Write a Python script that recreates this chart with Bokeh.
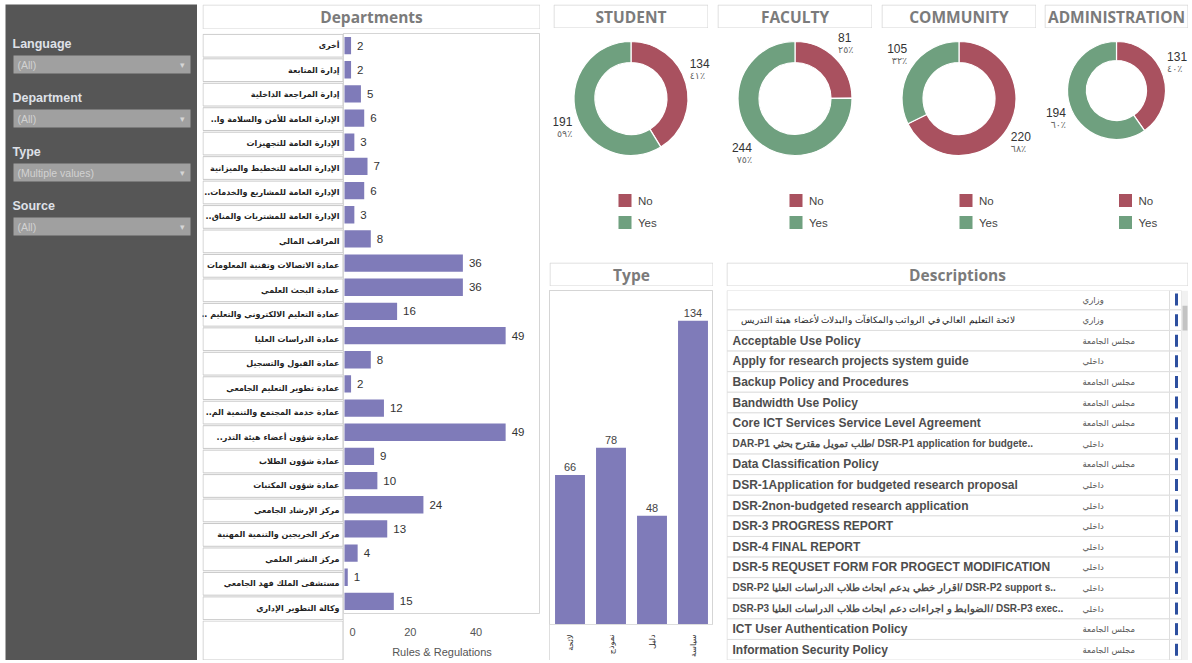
import math
import re
from bokeh.plotting import figure
from bokeh.models import Range1d, FactorRange, Spacer, FixedTicker
from bokeh.layouts import row, column
from bokeh.embed import file_html
from bokeh.resources import INLINE
from bokeh.core.properties import value

# ---------------- data ----------------
filter_names = ["Language", "Department", "Type", "Source"]
filter_values = ["(All)", "(All)", "(Multiple values)", "(All)"]

departments = [
    "أخرى", "إدارة المتابعة", "إدارة المراجعة الداخلية",
    "..الإدارة العامة للأمن والسلامة وا", "الإدارة العامة للتجهيزات",
    "الإدارة العامة للتخطيط والميزانية", "..الإدارة العامة للمشاريع والخدمات",
    "..الإدارة العامة للمشتريات والمناق", "المراقب المالي",
    "عمادة الاتصالات وتقنية المعلومات", "عمادة البحث العلمي",
    ".. عمادة التعليم الالكتروني والتعليم", "عمادة الدراسات العليا",
    "عمادة القبول والتسجيل", "عمادة تطوير التعليم الجامعي",
    "..عمادة خدمة المجتمع والتنمية الم", "..عمادة شؤون أعضاء هيئة التدر",
    "عمادة شؤون الطلاب", "عمادة شؤون المكتبات", "مركز الإرشاد الجامعي",
    "مركز الخريجين والتنمية المهنية", "مركز النشر العلمي",
    "مستشفى الملك فهد الجامعي", "وكالة التطوير الإداري",
]
dept_counts = [2, 2, 5, 6, 3, 7, 6, 3, 8, 36, 36, 16, 49, 8, 2, 12, 49, 9, 10, 24, 13, 4, 1, 15]
dept_ticks = [0, 20, 40]

audiences = ["STUDENT", "FACULTY", "COMMUNITY", "ADMINISTRATION"]
answers = ["No", "Yes"]
no_counts = [134, 81, 220, 131]
yes_counts = [191, 244, 105, 194]

types = ["لائحة", "نموذج", "دليل", "سياسة"]
type_counts = [66, 78, 48, 134]

descriptions = [
    "",
    "لائحة التعليم العالي في الرواتب والمكافآت والبدلات لأعضاء هيئة التدريس",
    "Acceptable Use Policy",
    "Apply for research projects system guide",
    "Backup Policy and Procedures",
    "Bandwidth Use Policy",
    "Core ICT Services Service Level Agreement",
    "DAR-P1 طلب تمويل مقترح بحثي/ DSR-P1 application for budgete..",
    "Data Classification Policy",
    "DSR-1Application for budgeted research proposal",
    "DSR-2non-budgeted research application",
    "DSR-3 PROGRESS REPORT",
    "DSR-4 FINAL REPORT",
    "DSR-5 REQUSET FORM FOR PROGECT MODIFICATION",
    "DSR-P2 اقرار خطي بدعم ابحاث طلاب الدراسات العليا/ DSR-P2 support s..",
    "DSR-P3 الضوابط و اجراءات دعم ابحاث طلاب الدراسات العليا/ DSR-P3 exec..",
    "ICT User Authentication Policy",
    "Information Security Policy",
]
sources = [
    "وزاري", "وزاري", "مجلس الجامعة", "داخلي", "مجلس الجامعة", "مجلس الجامعة",
    "مجلس الجامعة", "داخلي", "مجلس الجامعة", "داخلي", "داخلي", "داخلي", "داخلي",
    "داخلي", "داخلي", "داخلي", "مجلس الجامعة", "مجلس الجامعة",
]

# ---------------- styles ----------------
PURPLE = "#7f7bb9"
NO_COLOR = "#a9515f"
YES_COLOR = "#6fa07f"
PANEL = "#565656"
BORDER = "#d5d5d5"
TITLE_TXT = "#7b7b7b"
SANS = value("Liberation Sans")
ARAB = value("DejaVu Sans")


def blank(w, h, xr, yr, **kw):
    p = figure(width=w, height=h, x_range=xr, y_range=yr, output_backend="svg",
               toolbar_location=None, min_border=0, x_axis_location=None,
               y_axis_location=None, **kw)
    p.grid.visible = False
    p.outline_line_color = None
    return p


def title_box(text, w, h=25):
    p = blank(w, h, Range1d(0, w), Range1d(0, h))
    p.quad(left=[0.5], right=[w - 0.5], bottom=[0.5], top=[h - 0.5],
           fill_color="white", line_color=BORDER)
    p.text(x=[w / 2], y=[h / 2], text=[text], text_align="center",
           text_baseline="middle", text_font=value("Open Sans"),
           text_font_style="bold", text_font_size="15.5px", text_color=TITLE_TXT)
    return p


# ---------------- left filter panel ----------------
PH = 656
lp = blank(192, PH, Range1d(0, 192), Range1d(PH, 0))
lp.background_fill_color = PANEL
lp.border_fill_color = PANEL
n = len(filter_names)
lab_y = [39 + 54 * i for i in range(n)]
box_t = [51 + 54 * i for i in range(n)]
box_b = [t + 18 for t in box_t]
lp.text(x=[7] * n, y=lab_y, text=filter_names, text_baseline="middle",
        text_font=SANS, text_font_style="bold", text_font_size="12.5px",
        text_color="#dfe1e8")
lp.quad(left=[8] * n, right=[185] * n, top=box_t, bottom=box_b,
        fill_color="#a0a0a0", line_color=None)
lp.text(x=[12] * n, y=[t + 9 for t in box_t], text=filter_values,
        text_baseline="middle", text_font=SANS, text_font_size="10.5px",
        text_color="#d2d2d2")
lp.text(x=[177] * n, y=[t + 9 for t in box_t], text=["▾"] * n,
        text_align="center", text_baseline="middle", text_font=SANS,
        text_font_size="9px", text_color="#d6d6d6")

# ---------------- departments ----------------
DH = 627
AXH = 40
dept_title = title_box("Departments", 338, 25)
yr = FactorRange(factors=departments[::-1])

lab = blank(141, DH - AXH, Range1d(0, 141), yr)
lab.hbar(y=departments, left=0.5, right=140.5, height=0.93,
         fill_color="white", line_color="#c9c9c9")
lab.text(x=[137] * len(departments), y=departments, text=departments,
         text_align="right", text_baseline="middle", text_font=ARAB,
         text_font_style="bold", text_font_size="8px", text_color="#222222")

lab_bottom = blank(141, AXH, Range1d(0, 141), Range1d(0, AXH))
lab_bottom.quad(left=[0.5], right=[140.5], bottom=[0.5], top=[AXH - 0.5],
                fill_color="white", line_color="#c9c9c9")

bars = figure(width=197, height=DH, x_range=Range1d(-0.3, 59.6), y_range=yr,
              output_backend="svg", toolbar_location=None, min_border=0,
              min_border_bottom=AXH, y_axis_location=None,
              styles={"outline": "1px solid #d5d5d5", "outline-offset": "-1px"})
bars.grid.visible = False
bars.outline_line_color = BORDER
bars.hbar(y=departments, left=0, right=dept_counts, height=0.72,
          fill_color=PURPLE, line_color=None)
bars.text(x=dept_counts, y=departments, text=[str(v) for v in dept_counts],
          x_offset=6, text_align="left", text_baseline="middle",
          text_font=SANS, text_font_size="11.5px", text_color="#333333")
ax = bars.xaxis[0]
ax.ticker = FixedTicker(ticks=dept_ticks)
ax.major_label_overrides = {0: "\u20070"}
ax.axis_line_color = None
ax.major_tick_line_color = None
ax.minor_tick_line_color = None
ax.major_label_standoff = 6
ax.major_label_text_font = "Liberation Sans"
ax.major_label_text_font_size = "11px"
ax.major_label_text_color = "#555555"
ax.axis_label = "Rules & Regulations"
ax.axis_label_text_font = "Liberation Sans"
ax.axis_label_text_font_style = "normal"
ax.axis_label_text_font_size = "11px"
ax.axis_label_text_color = "#555555"
ax.axis_label_standoff = 5

dept_block = column(dept_title, Spacer(width=338, height=4),
                    row(column(lab, lab_bottom), bars))

# ---------------- donuts ----------------
AR_DIGITS = str.maketrans("0123456789", "٠١٢٣٤٥٦٧٨٩")
DONUT_H = 222


def donut_panel(name, counts, w, extra, h, r_out, r_in, top_gap, legend_dx):
    title = title_box(name, w, 24)
    fw = w + extra
    p = blank(fw, h, Range1d(0, fw), Range1d(0, h))
    cx = w / 2.0
    cy = h - top_gap
    total = float(sum(counts))
    starts, ends, mids = [], [], []
    cum = 0
    for c in counts:
        f0 = cum / total
        cum += c
        f1 = cum / total
        starts.append(math.pi / 2 - 2 * math.pi * f0)
        ends.append(math.pi / 2 - 2 * math.pi * f1)
        mids.append(math.pi * (f0 + f1))
    colors = [NO_COLOR, YES_COLOR]
    p.annular_wedge(x=[cx] * len(counts), y=[cy] * len(counts),
                    inner_radius=r_in, outer_radius=r_out,
                    inner_radius_units="screen", outer_radius_units="screen",
                    start_angle=starts, end_angle=ends, direction="clock",
                    fill_color=colors, line_color="white", line_width=1.2)
    r_lab = r_out + 4
    for c, th in zip(counts, mids):
        lx = cx + r_lab * math.sin(th)
        ly = cy + r_lab * math.cos(th)
        align = "left" if math.sin(th) >= 0 else "right"
        if math.cos(th) >= 0:
            ny, py = ly + 18, ly + 6
        else:
            ny, py = ly - 6, ly - 18
        pct = str(int(round(100 * c / total))).translate(AR_DIGITS) + "٪"
        p.text(x=[lx], y=[ny], text=[str(c)], text_align=align,
               text_baseline="middle", text_font=SANS,
               text_font_size="12px", text_color="#333333")
        p.text(x=[lx], y=[py], text=[pct], text_align=align,
               text_baseline="middle", text_font=ARAB,
               text_font_size="9.5px", text_color="#666666")
    sx = cx + legend_dx
    legy = [h - 168, h - 190]
    p.rect(x=[sx] * 2, y=legy, width=13, height=13, width_units="screen",
           height_units="screen", fill_color=colors, line_color=None)
    p.text(x=[sx + 13] * 2, y=legy, text=answers, text_baseline="middle",
           text_font=SANS, text_font_size="11.5px", text_color="#444444")
    top = title if extra == 0 else row(title, Spacer(width=extra, height=24))
    return column(top, Spacer(width=fw, height=4), p)


panel_w = [155, 155, 155, 144]
panel_extra = [9, 9, 8, 0]
radii = [(57, 36), (57, 36), (57, 36), (49, 30)]
gaps = [66, 66, 66, 58]
leg_dx = [-6, 1, 7, 9]
donut_children = [Spacer(width=4, height=24 + 4 + DONUT_H)]
for i, name in enumerate(audiences):
    donut_children.append(
        donut_panel(name, [no_counts[i], yes_counts[i]], panel_w[i],
                    panel_extra[i], DONUT_H, radii[i][0], radii[i][1],
                    gaps[i], leg_dx[i]))
donut_row = row(*donut_children)

# ---------------- type chart ----------------
CH = 370
type_title = title_box("Type", 164, 24)
tp = figure(width=164, height=CH, x_range=FactorRange(factors=types),
            y_range=Range1d(0, 147.4), output_backend="svg",
            toolbar_location=None, min_border=0, min_border_bottom=30,
            y_axis_location=None,
            styles={"outline": "1px solid #d5d5d5", "outline-offset": "-1px"})
tp.grid.visible = False
tp.outline_line_color = BORDER
tp.vbar(x=types, top=type_counts, width=0.73, fill_color=PURPLE,
        line_color=None)
tp.text(x=types, y=type_counts, text=[str(v) for v in type_counts],
        y_offset=-4, text_align="center", text_baseline="bottom",
        text_font=SANS, text_font_size="11px", text_color="#444444")
tax = tp.xaxis[0]
tax.axis_line_color = "#dddddd"
tax.major_tick_line_color = None
tax.minor_tick_line_color = None
tax.major_label_orientation = math.pi / 2
tax.major_label_standoff = 4
tax.major_label_text_font = "DejaVu Sans"
tax.major_label_text_font_size = "8px"
tax.major_label_text_color = "#333333"
type_block = column(type_title, Spacer(width=164, height=4), tp)

# ---------------- descriptions table ----------------
DW = 462
desc_title = title_box("Descriptions", DW, 24)
nrow = len(descriptions)
idx = list(range(nrow))
row_top = -0.44
row_bottom = row_top + CH / 20.6
dp = blank(DW, CH, Range1d(0, DW), Range1d(row_bottom, row_top))
dp.hbar(y=idx, left=0.5, right=443, height=1, fill_color="white",
        line_color="#dedede")
dp.hbar(y=idx, left=443, right=455, height=1, fill_color="white",
        line_color="#dedede")

arabic = re.compile("[\u0600-\u06ff]")
latin = re.compile("[A-Za-z]")
groups = {"latin": [], "mixed": [], "arabic": []}
for i, d in enumerate(descriptions):
    has_ar = bool(arabic.search(d))
    has_la = bool(latin.search(d))
    key = "mixed" if (has_ar and has_la) else ("arabic" if has_ar else "latin")
    groups[key].append(i)
desc_style = {"latin": ("bold", "12px", "#4d4d4d"),
              "mixed": ("bold", "10px", "#4d4d4d"),
              "arabic": ("normal", "9px", "#222222")}
for key, rows_ in groups.items():
    if not rows_:
        continue
    st, sz, col = desc_style[key]
    dp.text(x=[6 if key != "arabic" else 14] * len(rows_), y=rows_,
            text=[descriptions[i] for i in rows_], text_baseline="middle",
            text_font=SANS, text_font_style=st, text_font_size=sz,
            text_color=col)
dp.text(x=[356] * nrow, y=idx, text=sources, text_baseline="middle",
        text_font=ARAB, text_font_size="8.5px", text_color="#555555")
dp.rect(x=[450] * nrow, y=idx, width=3, height=12, width_units="screen",
        height_units="screen", fill_color="#2d4f9f", line_color=None)
dp.quad(left=[455], right=[DW], top=[row_top], bottom=[row_bottom],
        fill_color="#f1f1f1", line_color=None)
dp.quad(left=[456], right=[DW - 1], top=[0.3], bottom=[1.5],
        fill_color="#c3c3c3", line_color=None)
desc_block = column(desc_title, Spacer(width=DW, height=4), dp)

bottom_row = row(type_block, Spacer(width=13, height=24 + 4 + CH), desc_block)
right_block = column(donut_row, Spacer(width=639, height=8), bottom_row)

main = row(Spacer(width=5, height=PH), lp, Spacer(width=5, height=PH),
           dept_block, Spacer(width=9, height=PH), right_block)
layout = column(Spacer(width=1188, height=4), main)

open("out.html", "w").write(file_html(layout, INLINE))
